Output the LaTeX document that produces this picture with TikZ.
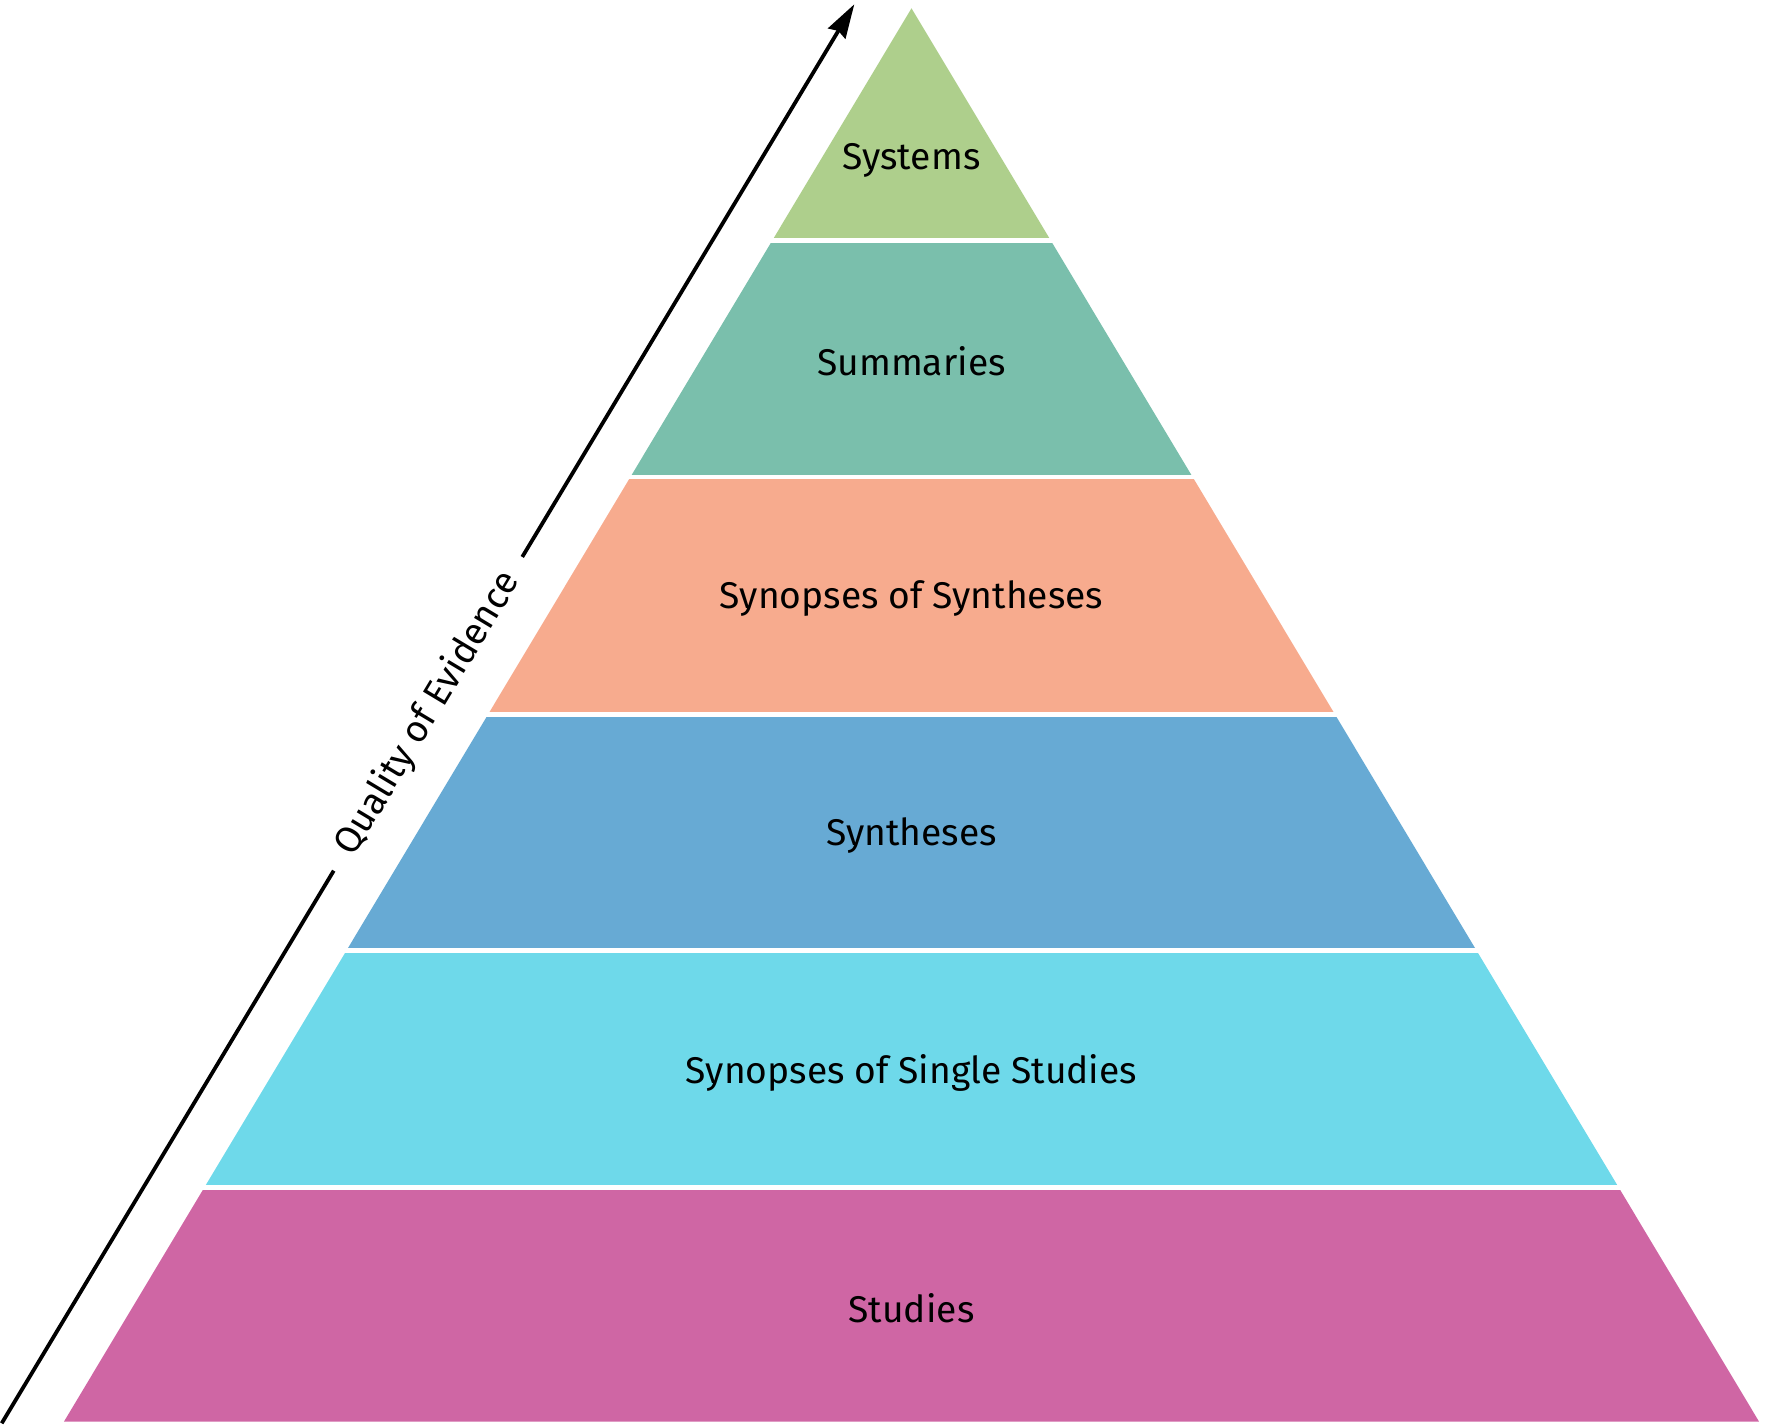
\documentclass[tikz,border=0pt]{standalone}
\usepackage{fontspec}
\setmainfont{Fira Sans}
\usetikzlibrary{calc,arrows.meta}
\definecolor{cSys}{RGB}{174,207,140}
\definecolor{cSum}{RGB}{122,191,172}
\definecolor{cSoS}{RGB}{247,171,142}
\definecolor{cSyn}{RGB}{103,170,212}
\definecolor{cSSS}{RGB}{110,217,234}
\definecolor{cStu}{RGB}{207,102,164}
\tikzset{
  lbl/.style={font=\fontsize{18.6}{22}\selectfont, text=black, inner sep=0pt, anchor=center},
  sep/.style={draw=white, line width=2.3pt, line cap=butt},
  qarrow/.style={draw=black, line width=1.9pt}
}
\begin{document}
\begin{tikzpicture}[x=0.5pt,y=-0.5pt]
\useasboundingbox (0,0) rectangle (1768,1427);
% layers
\fill[cSys] (911.5,8.3) -- (1050.75,240.5) -- (772.25,240.5) -- cycle;
\fill[cSum] (772.25,240.5) -- (1050.75,240.5) -- (1192.6,477) -- (630.4,477) -- cycle;
\fill[cSoS] (630.4,477) -- (1192.6,477) -- (1335.0,714.5) -- (488.0,714.5) -- cycle;
\fill[cSyn] (488.0,714.5) -- (1335.0,714.5) -- (1476.5,950.5) -- (346.5,950.5) -- cycle;
\fill[cSSS] (346.5,950.5) -- (1476.5,950.5) -- (1618.7,1187.5) -- (204.3,1187.5) -- cycle;
\fill[cStu] (204.3,1187.5) -- (1618.7,1187.5) -- (1759.1,1421.7) -- (63.9,1421.7) -- cycle;
% separators
\draw[sep] (760,240.5) -- (1063,240.5);
\draw[sep] (618,477) -- (1205,477);
\draw[sep] (476,714.5) -- (1347,714.5);
\draw[sep] (334,950.5) -- (1489,950.5);
\draw[sep] (192,1187.5) -- (1631,1187.5);
% labels
\node[lbl] (sys) at (911.5,160.5) {Systems};
\node[lbl] (sum) at (911.5,361.5) {Summaries};
\node[lbl] (sos) at (911.5,598.5) {Synopses of Syntheses};
\node[lbl] (syn) at (911.5,835.5) {Syntheses};
\node[lbl] (sss) at (911.5,1072.5) {Synopses of Single Studies};
\node[lbl] (stu) at (911.5,1308.5) {Studies};
% quality arrow
\coordinate (qs) at (1.7,1423.3);
\coordinate (qe) at (854.3,4.3);
\node[lbl, rotate=59.0] (q) at ($(qs)!0.5!(qe)$) {Quality of Evidence};
\draw[qarrow] (qs) -- ($(q.center)!91.5pt!(qs)$);
\draw[qarrow, -{Stealth[length=17pt,width=10pt,inset=1.5pt]}] ($(q.center)!91.5pt!(qe)$) -- (qe);
\end{tikzpicture}
\end{document}
